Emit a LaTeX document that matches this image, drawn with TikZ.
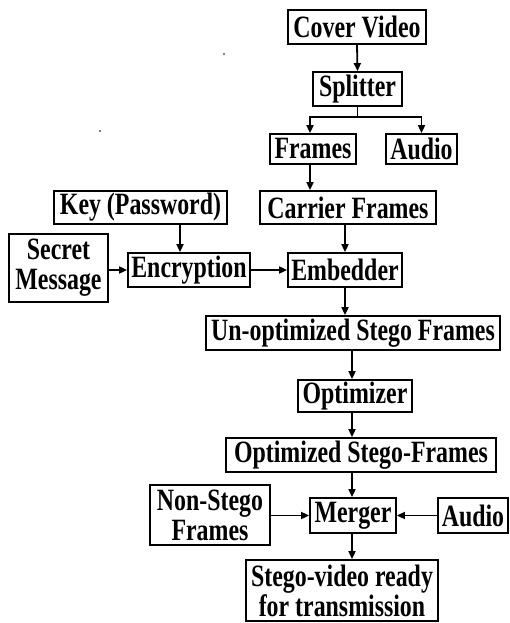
\documentclass[tikz,border=0pt]{standalone}
\usepackage{fontspec}
\setmainfont{Liberation Serif}[FakeStretch=0.77]
\usetikzlibrary{arrows.meta}
\begin{document}
\begin{tikzpicture}[x=1pt,y=-1pt,
  box/.style={draw, line width=1.8pt, inner sep=0pt, align=center,
    font=\fontsize{31}{30}\selectfont\bfseries},
  link/.style={line width=1.8pt},
  flow/.style={link, -{Triangle[length=8pt,width=7pt]}}]
\useasboundingbox (0,0) rectangle (509,623);

% boxes
\node[box, minimum width=138pt, minimum height=34pt] (cover)   at (357,27)  {Cover Video};
\node[box, minimum width=89pt,  minimum height=34pt] (split)   at (357.5,89) {Splitter};
\node[box, minimum width=86pt,  minimum height=30pt] (frames)  at (313,149) {Frames};
\node[box, minimum width=71pt,  minimum height=30pt] (audioA)  at (421.5,149) {Audio};
\node[box, minimum width=176pt, minimum height=33pt] (carrier) at (348,207.5) {Carrier Frames};
\node[box, minimum width=173pt, minimum height=33pt] (key)     at (140.5,207.5) {Key (Password)};
\node[box, minimum width=99pt,  minimum height=68pt] (secret)  at (58.5,268) {Secret\\Message};
\node[box, minimum width=122pt, minimum height=34pt] (enc)     at (189,270) {Encryption};
\node[box, minimum width=114pt, minimum height=34pt] (emb)     at (345,270) {Embedder};
\node[box, minimum width=294pt, minimum height=34pt] (unopt)   at (353,333) {Un-optimized Stego Frames};
\node[box, minimum width=114pt, minimum height=32pt] (optim)   at (355,396) {Optimizer};
\node[box, minimum width=270pt, minimum height=34pt] (opted)   at (361,455) {Optimized Stego-Frames};
\node[box, minimum width=120pt, minimum height=60pt] (nonst)   at (210,515) {Non-Stego\\Frames};
\node[box, minimum width=86pt,  minimum height=35pt] (merger)  at (353,515.5) {Merger};
\node[box, minimum width=70pt,  minimum height=35pt] (audioB)  at (473,515.5) {Audio};
\node[box, minimum width=192pt, minimum height=61pt] (stego)   at (342,590.5) {Stego-video ready\\for transmission};

% connectors
\draw[flow] (cover.south) -- (split.north);
\draw[link] (split.south) -- ++(0,10) coordinate (fork);
\draw[flow] (fork) -| ([xshift=-3pt]frames.north);
\draw[flow] (fork) -| (audioA.north);
\draw[flow] ([xshift=-3pt]frames.south) -- ([xshift=-3pt]frames.south |- carrier.north);
\draw[flow] ([xshift=-9pt]enc.north |- key.south) -- ([xshift=-9pt]enc.north);
\draw[flow] (emb.north |- carrier.south) -- (emb.north);
\draw[flow] (secret.east |- enc.west) -- (enc.west);
\draw[flow] (enc.east) -- (emb.west);
\draw[flow] (emb.south) -- (emb.south |- unopt.north);
\draw[flow] ([xshift=-3pt]optim.north |- unopt.south) -- ([xshift=-3pt]optim.north);
\draw[flow] ([xshift=-3pt]optim.south) -- ([xshift=-3pt]optim.south |- opted.north);
\draw[flow] ([xshift=-1pt]merger.north |- opted.south) -- ([xshift=-1pt]merger.north);
\draw[flow] (nonst.east |- merger.west) -- (merger.west);
\draw[flow] (audioB.west) -- (merger.east);
\draw[flow] ([xshift=-1pt]merger.south) -- ([xshift=-1pt]merger.south |- stego.north);

% small specks
\fill (224,54) circle (0.9);
\fill (100,131) circle (0.9);
\end{tikzpicture}
\end{document}
